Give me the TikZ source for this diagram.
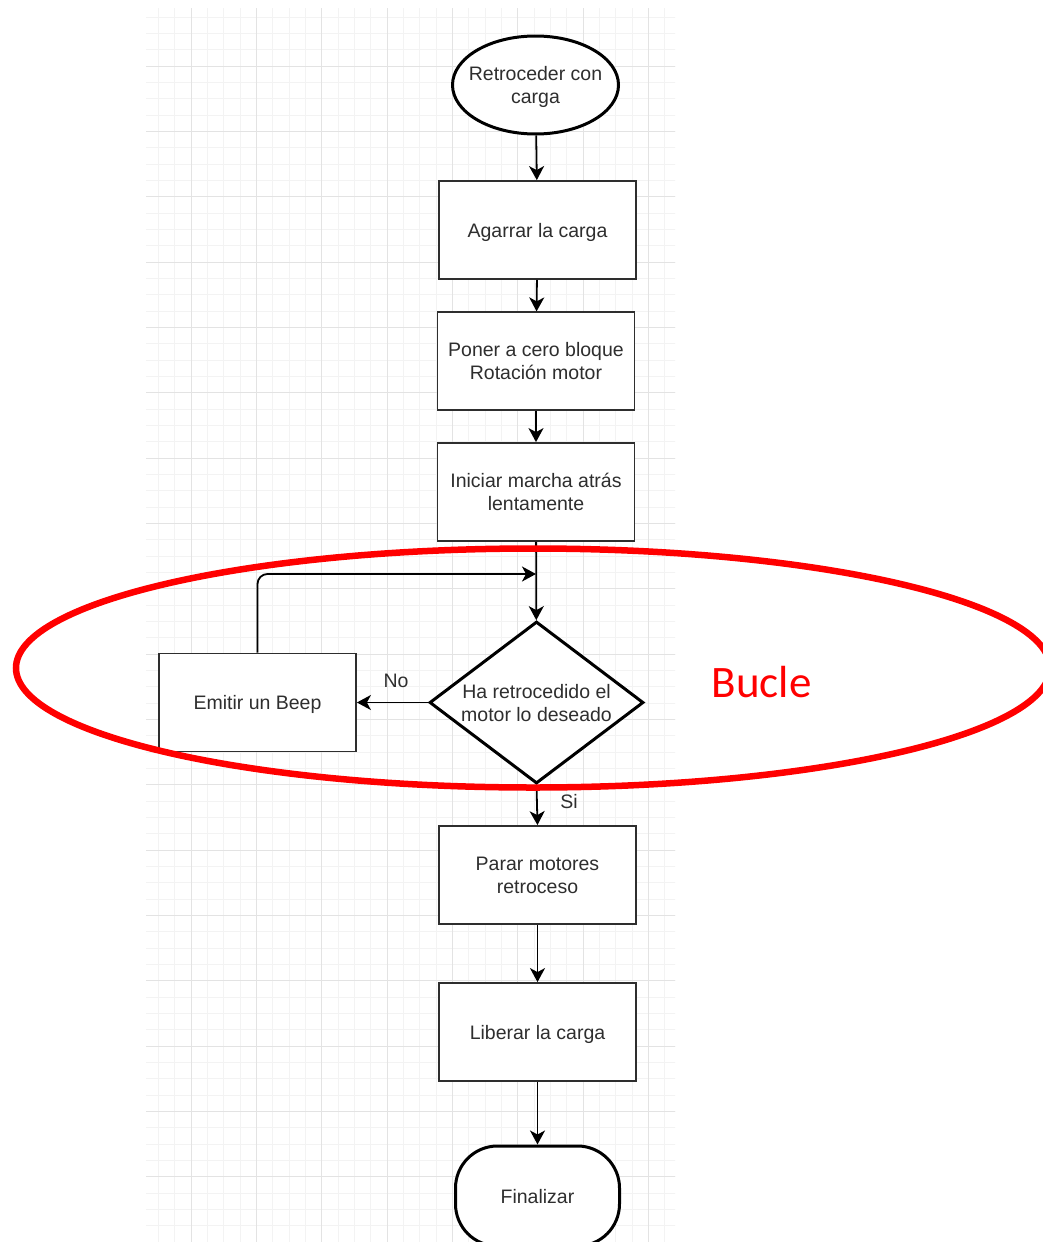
\documentclass[tikz,border=0pt]{standalone}
\usepackage{fontspec}
\setmainfont{Liberation Sans}
\newfontfamily\buclefont{Carlito}
\usetikzlibrary{shapes.geometric,arrows.meta,calc}
\definecolor{txt}{HTML}{2E2E2E}
\definecolor{gmin}{HTML}{F3F3F3}
\definecolor{gmaj}{HTML}{E3E3E3}
\newcommand{\nodefont}{\fontsize{19.5pt}{23pt}\selectfont}
\newcommand{\ctext}[1]{\raisebox{-2.5pt}[\height][\depth]{\begin{tabular}{@{}c@{}}#1\end{tabular}}}
\newcommand{\ztext}[1]{\makebox[0pt]{\ctext{#1}}}
\begin{document}
\begin{tikzpicture}[x=1pt,y=-1pt,
  procbox/.style={draw=txt, line width=1.8pt, fill=white, minimum width=197pt,
    minimum height=98pt, inner sep=0pt, text=txt, font=\nodefont},
  startshape/.style={ellipse, draw=black, line width=3pt, fill=white,
    minimum width=166pt, minimum height=98pt, inner sep=0pt,
    text=txt, font=\nodefont},
  decision/.style={diamond, draw=black, line width=3pt, fill=white,
    minimum width=214pt, minimum height=162pt, aspect=1.32, inner sep=0pt,
    text=txt, font=\nodefont},
  terminal/.style={draw=black, line width=3pt, fill=white, rounded corners=42pt,
    minimum width=164pt, minimum height=100pt, inner sep=0pt,
    text=txt, font=\nodefont},
  lbl/.style={text=txt, font=\nodefont, inner sep=0pt},
  arr/.style={draw=black, line width=1.8pt,
    -{Stealth[length=14pt,width=15pt,inset=4pt]}}
]
\useasboundingbox (0,0) rectangle (1043,1242);
\clip (0,0) rectangle (1043,1242);
\fill[white] (0,0) rectangle (1043,1242);

% grid
\begin{scope}
\clip (146,8) rectangle (675,1242);
\foreach \i in {0,...,31} {
  \draw[gmin, line width=1pt] ({158.63+16.333*\i},0) -- ({158.63+16.333*\i},1242);
}
\foreach \j in {1,...,76} {
  \draw[gmin, line width=1pt] (140,{0.7+16.333*\j}) -- (680,{0.7+16.333*\j});
}
\foreach \k in {0,...,7} {
  \draw[gmaj, line width=1pt] ({191.3+65.333*\k},0) -- ({191.3+65.333*\k},1242);
}
\foreach \k in {0,...,18} {
  \draw[gmaj, line width=1pt] (140,{66+65.333*\k}) -- (680,{66+65.333*\k});
}
\end{scope}

% nodes
\node[startshape] (start) at (535.5,85) {\ztext{Retroceder con\\carga}};
\node[procbox] (agarrar) at (537.5,230) {\ctext{Agarrar la carga}};
\node[procbox] (poner) at (536,361.3) {\ctext{Poner a cero bloque\\Rotación motor}};
\node[procbox] (iniciar) at (536,492) {\ctext{Iniciar marcha atrás\\lentamente}};
\node[decision] (dec) at (536.5,702.5) {\ztext{Ha retrocedido el\\motor lo deseado}};
\node[procbox] (beep) at (257.5,702.5) {\ctext{Emitir un Beep}};
\node[procbox] (parar) at (537.5,875) {\ctext{Parar motores\\retroceso}};
\node[procbox] (liberar) at (537.5,1032) {\ctext{Liberar la carga}};
\node[terminal] (fin) at (537.5,1196) {\ctext{Finalizar}};

\coordinate (join) at (536,574);

% connectors
\draw[arr] (start) -- (agarrar);
\draw[arr] (agarrar) -- (poner);
\draw[arr] (poner) -- (iniciar);
\draw[arr] (iniciar) -- (dec);
\draw[arr, rounded corners=10pt] (beep.north) |- (join);
\draw[arr] (dec.west) -- (beep.east);
\draw[arr] (dec.south) -- (parar.north);
\draw[arr] (parar) -- (liberar);
\draw[arr] (liberar) -- (fin);

\node[lbl] (no) at (396,681) {No};
\node[lbl] (si) at (569,802) {Si};

% loop highlight
\draw[red, line width=6.5pt] (533,668) ellipse [x radius=517pt, y radius=119.5pt];
\node[text=red, font=\buclefont\fontsize{45pt}{50pt}\selectfont, inner sep=0pt, anchor=base] (bucle) at (761.5,697) {Bucle};
\end{tikzpicture}
\end{document}
